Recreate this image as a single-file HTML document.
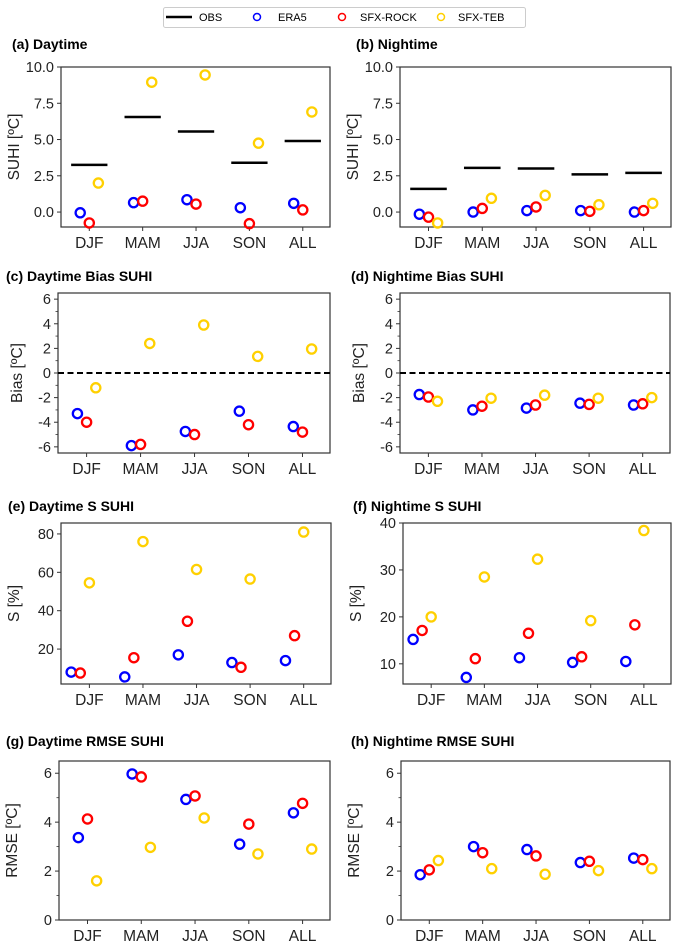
<!DOCTYPE html>
<html><head><meta charset="utf-8">
<style>
html,body{margin:0;padding:0;background:#fff;}
svg{display:block;font-family:"Liberation Sans","DejaVu Sans",sans-serif;}
</style></head>
<body>
<svg id="fig" width="679" height="949" viewBox="0 0 679 949" xmlns="http://www.w3.org/2000/svg">
  <g>
    <rect x="163.5" y="7.5" width="362" height="20" rx="2" fill="#fff" stroke="#ccc"/>
    <line x1="166" y1="17" x2="192" y2="17" stroke="#000" stroke-width="2.5"/>
    <text x="199" y="21" font-size="11">OBS</text>
    <circle cx="257" cy="17" r="3.5" fill="none" stroke="#0000ff" stroke-width="1.5"/>
    <text x="278" y="21" font-size="11">ERA5</text>
    <circle cx="342" cy="17" r="3.5" fill="none" stroke="#ff0000" stroke-width="1.5"/>
    <text x="360" y="21" font-size="11">SFX-ROCK</text>
    <circle cx="441" cy="17" r="3.5" fill="none" stroke="#ffd000" stroke-width="1.5"/>
    <text x="458" y="21" font-size="11">SFX-TEB</text>
  </g>
</svg>
<script>
const categories = ["DJF","MAM","JJA","SON","ALL"];
// (a) Daytime
const aObs  = [3.25,6.55,5.55,3.4,4.9];
const aEra5 = [-0.05,0.65,0.85,0.3,0.6];
const aRock = [-0.75,0.75,0.55,-0.8,0.15];
const aTeb  = [2.0,8.95,9.45,4.75,6.9];
// (b) Nightime
const bObs  = [1.6,3.05,3.0,2.6,2.7];
const bEra5 = [-0.15,0.0,0.1,0.1,0.0];
const bRock = [-0.35,0.25,0.35,0.05,0.1];
const bTeb  = [-0.75,0.95,1.15,0.5,0.6];
// (c) Daytime bias
const cEra5 = [-3.3,-5.9,-4.75,-3.1,-4.35];
const cRock = [-4.0,-5.8,-5.0,-4.2,-4.8];
const cTeb  = [-1.2,2.4,3.9,1.35,1.95];
// (d) Nightime bias
const dEra5 = [-1.75,-3.0,-2.85,-2.45,-2.6];
const dRock = [-1.95,-2.7,-2.6,-2.55,-2.5];
const dTeb  = [-2.3,-2.05,-1.8,-2.05,-2.0];
// (e) Daytime S
const eEra5 = [8,5.5,17,13,14];
const eRock = [7.5,15.5,34.5,10.5,27];
const eTeb  = [54.5,76,61.5,56.5,81];
// (f) Nightime S
const fEra5 = [15.2,7.1,11.3,10.3,10.5];
const fRock = [17.1,11.1,16.5,11.5,18.3];
const fTeb  = [20,28.5,32.3,19.2,38.4];
// (g) Daytime RMSE
const gEra5 = [3.37,5.97,4.93,3.1,4.38];
const gRock = [4.13,5.85,5.07,3.92,4.77];
const gTeb  = [1.6,2.97,4.17,2.7,2.9];
// (h) Nightime RMSE
const hEra5 = [1.85,3.0,2.88,2.35,2.53];
const hRock = [2.05,2.75,2.62,2.4,2.47];
const hTeb  = [2.43,2.1,1.87,2.02,2.1];
// tick labels
const suhiTicks = ["0.0","2.5","5.0","7.5","10.0"];
const biasTicks = ["-6","-4","-2","0","2","4","6"];
const eTicks = ["20","40","60","80"];
const fTicks = ["10","20","30","40"];
const rmseTicks = ["0","2","4","6"];

const NS = "http://www.w3.org/2000/svg";
const svg = document.getElementById("fig");
function mk(tag, attrs, parent){
  const e = document.createElementNS(NS, tag);
  for (const k in attrs) e.setAttribute(k, attrs[k]);
  (parent||svg).appendChild(e);
  return e;
}
const COLORS = ["#0000ff","#ff0000","#ffd000"];
const SNAMES = ["era5","sfx-rock","sfx-teb"];

const panels = [
 {id:"a",title:"(a) Daytime",tb:49,tx:12,L:61,R:330,T:67,B:227,y0:-1.03,y1:10,ticks:suhiTicks,minor:[],ylab:"SUHI [ºC]",obs:aObs,series:[aEra5,aRock,aTeb],off:[-0.17,0,0.17]},
 {id:"b",title:"(b) Nightime",tb:49,tx:356,L:400,R:671,T:67,B:227,y0:-1.03,y1:10,ticks:suhiTicks,minor:[],ylab:"SUHI [ºC]",obs:bObs,series:[bEra5,bRock,bTeb],off:[-0.17,0,0.17]},
 {id:"c",title:"(c) Daytime Bias SUHI",tb:281,tx:6,L:58,R:330,T:293,B:453,y0:-6.5,y1:6.5,ticks:biasTicks,minor:["-5","-3","-1","1","3","5"],ylab:"Bias [ºC]",dash:true,series:[cEra5,cRock,cTeb],off:[-0.17,0,0.17]},
 {id:"d",title:"(d) Nightime Bias SUHI",tb:281,tx:351,L:400,R:670,T:293,B:453,y0:-6.5,y1:6.5,ticks:biasTicks,minor:["-5","-3","-1","1","3","5"],ylab:"Bias [ºC]",dash:true,series:[dEra5,dRock,dTeb],off:[-0.17,0,0.17]},
 {id:"e",title:"(e) Daytime S SUHI",tb:511,tx:8,L:61,R:331,T:523,B:684,y0:1.8,y1:85.7,ticks:eTicks,minor:[],ylab:"S [%]",series:[eEra5,eRock,eTeb],off:[-0.34,-0.17,0]},
 {id:"f",title:"(f) Nightime S SUHI",tb:511,tx:353,L:403,R:671,T:523,B:684,y0:5.7,y1:40,ticks:fTicks,minor:[],ylab:"S [%]",series:[fEra5,fRock,fTeb],off:[-0.34,-0.17,0]},
 {id:"g",title:"(g) Daytime RMSE SUHI",tb:746,tx:6,L:59,R:330,T:761,B:920,y0:0,y1:6.5,ticks:rmseTicks,minor:["1","3","5"],ylab:"RMSE [ºC]",series:[gEra5,gRock,gTeb],off:[-0.17,0,0.17]},
 {id:"h",title:"(h) Nightime RMSE SUHI",tb:746,tx:351,L:401,R:670,T:761,B:920,y0:0,y1:6.5,ticks:rmseTicks,minor:["1","3","5"],ylab:"RMSE [ºC]",series:[hEra5,hRock,hTeb],off:[-0.17,0,0.17]}
];

panels.forEach(p=>{
  const g = mk("g",{});
  
  
  const xs = i => p.L + (i+0.53)/5.04*(p.R-p.L);
  const ys = v => p.B - (v-p.y0)/(p.y1-p.y0)*(p.B-p.T);

  const t = mk("text",{x:p.tx,y:p.tb,"font-size":14,"font-weight":"bold"},g);
  t.textContent = p.title;
  
  

  const frame = mk("rect",{x:p.L,y:p.T,width:p.R-p.L,height:p.B-p.T,fill:"none",stroke:"#333","stroke-width":1.2},g);
  
  

  p.ticks.forEach(lbl=>{
    const y = ys(parseFloat(lbl));
    const tk = mk("line",{x1:p.L-4,x2:p.L,y1:y,y2:y,stroke:"#333","stroke-width":1},g);
    
    
    const tl = mk("text",{x:p.L-7,y:y+5,"font-size":14.5,"text-anchor":"end",fill:"#222"},g);
    tl.textContent = lbl;
    
    
  });
  p.minor.forEach(v=>{
    const y = ys(parseFloat(v));
    const mt = mk("line",{x1:p.L-2.5,x2:p.L,y1:y,y2:y,stroke:"#333","stroke-width":0.8},g);
    
    
  });
  categories.forEach((c,i)=>{
    const x = xs(i);
    const tk = mk("line",{x1:x,x2:x,y1:p.B,y2:p.B+4,stroke:"#333","stroke-width":1},g);
    
    
    const tl = mk("text",{x:x,y:p.B+21,"font-size":15.5,"text-anchor":"middle",fill:"#222"},g);
    tl.textContent = c;
    
    
  });
  const yl = p.L - (p.id==="c"||p.id==="d"?36:42);
  const yc = (p.T+p.B)/2;
  const ylab = mk("text",{x:yl,y:yc,"font-size":15.5,"text-anchor":"middle",fill:"#222",transform:`rotate(-90 ${yl} ${yc})`},g);
  ylab.textContent = p.ylab;
  
  

  if (p.dash){
    const zl = mk("line",{x1:p.L,x2:p.R,y1:ys(0),y2:ys(0),stroke:"#000","stroke-width":2,"stroke-dasharray":"6,3.5"},g);
    
    
  }
  if (p.obs){
    p.obs.forEach((v,i)=>{
      const ol = mk("line",{x1:xs(i-0.34),x2:xs(i+0.34),y1:ys(v),y2:ys(v),stroke:"#000","stroke-width":2.5},g);
      
      
    });
  }
  p.series.forEach((arr,s)=>{
    arr.forEach((v,i)=>{
      const cc = mk("circle",{cx:xs(i+p.off[s]),cy:ys(v),r:4.6,fill:"none",stroke:COLORS[s],"stroke-width":2.3},g);
      
      
    });
  });
});
</script>
</body></html>
